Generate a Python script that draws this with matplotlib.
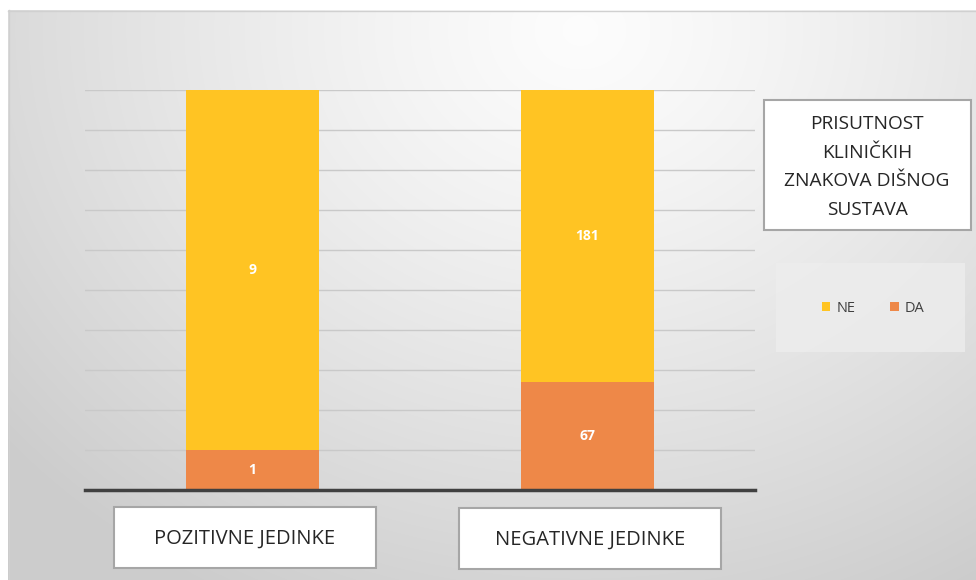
import numpy as np
import matplotlib
matplotlib.use("Agg")
import matplotlib.pyplot as plt
from matplotlib.patches import Rectangle, Patch

categories = ["POZITIVNE JEDINKE", "NEGATIVNE JEDINKE"]
da_values = [1, 67]
ne_values = [9, 181]
series_names = ["NE", "DA"]
legend_title = "PRISUTNOST\nKLINIČKIH\nZNAKOVA DIŠNOG\nSUSTAVA"

C_NE = "#FFC423"
C_DA = "#EE8848"
FONT = ["Open Sans", "DejaVu Sans"]

W, H = 976, 580
fig = plt.figure(figsize=(W / 100, H / 100), dpi=100)
fig.patch.set_facecolor("white")

# background
bg = fig.add_axes([0, 0, 1, 1])
bg.set_xlim(0, W)
bg.set_ylim(H, 0)
bg.axis("off")
yy, xx = np.mgrid[10:H, 8:W]
r = np.sqrt(((xx - 580) / 1.0) ** 2 + ((yy - 30) / 0.85) ** 2)
t = np.clip(r / 760, 0, 1) ** 1.25
v = 0.99 - t * (0.99 - 0.80)
img = np.dstack([v, v, v])
bg.imshow(img, extent=(8, W, H, 10), aspect="auto", interpolation="bilinear", zorder=0)
bg.plot([8, W], [10.5, 10.5], color="#D0D0D0", lw=1, zorder=1)
bg.plot([8.5, 8.5], [10, H], color="#D0D0D0", lw=1, zorder=1)

# main axes
ax = fig.add_axes([85 / W, (H - 490) / H, 670 / W, (490 - 90) / H])
ax.patch.set_alpha(0)
tot = [d + n for d, n in zip(da_values, ne_values)]
da_pct = [d / t_ * 100 for d, t_ in zip(da_values, tot)]
ne_pct = [n / t_ * 100 for n, t_ in zip(ne_values, tot)]
x = np.arange(len(categories))
ax.bar(x, da_pct, width=0.395, color=C_DA, zorder=3)
ax.bar(x, ne_pct, bottom=da_pct, width=0.395, color=C_NE, zorder=3)
for i in range(len(categories)):
    ax.text(x[i], da_pct[i] / 2, str(da_values[i]), ha="center", va="center",
            color="white", fontsize=10, fontweight="bold", family=FONT, zorder=4)
    ax.text(x[i], da_pct[i] + ne_pct[i] / 2, str(ne_values[i]), ha="center", va="center",
            color="white", fontsize=10, fontweight="bold", family=FONT, zorder=4)
ax.set_xlim(-0.5, 1.5)
ax.set_ylim(0, 100)
ax.set_yticks(np.arange(0, 101, 10))
ax.yaxis.grid(True, color="#C9C9C9", lw=1)
ax.set_axisbelow(True)
ax.tick_params(left=False, bottom=False, labelleft=False, labelbottom=False)
for s in ["top", "right", "left"]:
    ax.spines[s].set_visible(False)
ax.spines["bottom"].set_color("#404040")
ax.spines["bottom"].set_linewidth(2.5)
ax.spines["bottom"].set_zorder(5)

# category label boxes
boxes = [(114, 507, 376, 568), (459, 508, 721, 569)]
for (x0, y0, x1, y1), lab in zip(boxes, categories):
    bg.add_patch(Rectangle((x0, y0), x1 - x0, y1 - y0, facecolor="white",
                           edgecolor="#A6A6A6", lw=1.5, zorder=2))
    bg.text((x0 + x1) / 2, (y0 + y1) / 2 + 1, lab, ha="center", va="center",
            fontsize=14.5, color="#262626", family=FONT, zorder=3)

# legend title box
bg.add_patch(Rectangle((764, 100), 971 - 764, 230 - 100, facecolor="white",
                       edgecolor="#A6A6A6", lw=1.5, zorder=2))
bg.text(867, 167, legend_title, ha="center", va="center", fontsize=13.8,
        color="#262626", family=FONT, linespacing=1.75, zorder=3)

# legend box
bg.add_patch(Rectangle((776, 263), 965 - 776, 352 - 263, facecolor="#EDEDED",
                       edgecolor="none", alpha=0.8, zorder=2))
handles = [Patch(facecolor=C_NE, edgecolor="none"), Patch(facecolor=C_DA, edgecolor="none")]
leg = fig.legend(handles, series_names, loc="center", bbox_to_anchor=(873 / W, (H - 308) / H),
                 ncol=2, frameon=False, handlelength=0.6, handleheight=0.6,
                 handletextpad=0.4, columnspacing=2.4,
                 prop={"family": FONT, "size": 10.5})
for tx in leg.get_texts():
    tx.set_color("#404040")

fig.savefig("out.png", dpi=100)
